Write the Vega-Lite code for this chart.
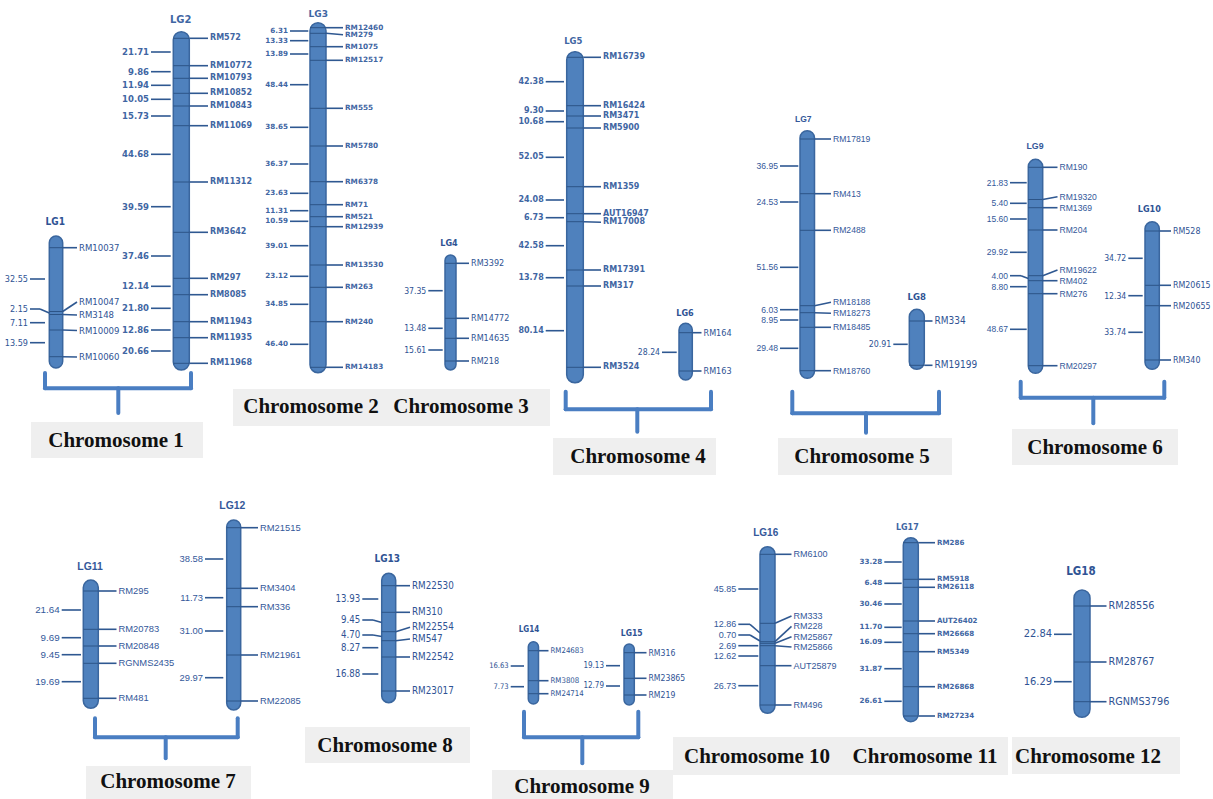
{
"$schema":"https://vega.github.io/schema/vega-lite/v6.json",
"width":1213,"height":799,"padding":0,
"autosize":{"type":"fit","contains":"padding"},
"background":"white",
"config":{"view":{"stroke":null}},
"resolve":{"scale":{"size":"independent"}},
"datasets":{
"lgs":[
{"lg":"LG1","x1":49.3,"x2":62.7,"top":236,"bot":368,"tx":55.3,"ty":222,"lx":77,"d1":30,"d2":45,"dm":40},
{"lg":"LG2","x1":173.3,"x2":189.3,"top":31.7,"bot":370,"tx":180.7,"ty":20,"lx":208,"d1":151,"d2":170.7},
{"lg":"LG3","x1":310,"x2":326,"top":22.7,"bot":372.7,"tx":318.3,"ty":14,"lx":343,"d1":290,"d2":308.3},
{"lg":"LG4","x1":445,"x2":456,"top":255,"bot":370,"tx":449,"ty":242.7,"lx":469,"d1":428.3,"d2":442.7},
{"lg":"LG5","x1":566.7,"x2":583.3,"top":51.7,"bot":382.7,"tx":573.3,"ty":40.7,"lx":601,"d1":545.7,"d2":564},
{"lg":"LG6","x1":679,"x2":692.3,"top":323.3,"bot":380,"tx":685,"ty":312.7,"lx":701.5,"d1":662,"d2":676.7},
{"lg":"LG7","x1":800,"x2":814.5,"top":130.7,"bot":378.3,"tx":803.3,"ty":119,"lx":831,"d1":780,"d2":798.3},
{"lg":"LG8","x1":909.3,"x2":924.3,"top":309.3,"bot":369.3,"tx":916.7,"ty":296.7,"lx":932.5,"d1":893.3,"d2":907.7},
{"lg":"LG9","x1":1028.3,"x2":1042.7,"top":159.3,"bot":373.3,"tx":1035,"ty":146,"lx":1057.5,"d1":1010,"d2":1026.7,"dm":1021},
{"lg":"LG10","x1":1145,"x2":1159.3,"top":221.7,"bot":369.3,"tx":1149.3,"ty":209,"lx":1171,"d1":1128.3,"d2":1142.7},
{"lg":"LG11","x1":83.3,"x2":98.3,"top":580,"bot":708.3,"tx":90,"ty":566.7,"lx":116.5,"d1":61.7,"d2":81},
{"lg":"LG12","x1":226.7,"x2":240.7,"top":520,"bot":710,"tx":232.3,"ty":506,"lx":258,"d1":205,"d2":223.3},
{"lg":"LG13","x1":381.7,"x2":395.7,"top":573.3,"bot":702.7,"tx":387.3,"ty":559,"lx":410,"d1":362.3,"d2":378.3,"dm":373},
{"lg":"LG14","x1":528.3,"x2":538.5,"top":641.7,"bot":704,"tx":529,"ty":630,"lx":548.5,"d1":510.7,"d2":524},
{"lg":"LG15","x1":624,"x2":634.3,"top":644,"bot":705,"tx":631.7,"ty":633.3,"lx":646.5,"d1":606,"d2":620},
{"lg":"LG16","x1":760,"x2":775,"top":546.7,"bot":713.3,"tx":765.7,"ty":533.3,"lx":791.5,"d1":738.3,"d2":758.3,"dm":750},
{"lg":"LG17","x1":903.3,"x2":918.3,"top":537.7,"bot":721.7,"tx":907.3,"ty":528.3,"lx":935,"d1":884.3,"d2":901.7},
{"lg":"LG18","x1":1074,"x2":1090,"top":590,"bot":717.3,"tx":1081,"ty":572.3,"lx":1106.5,"d1":1054,"d2":1071.7}
],
"markers":[
{"lg":"LG1","m":"RM10037","y":247.7,"ly":247.7},
{"lg":"LG1","m":"RM10047","y":311.5,"ly":302},
{"lg":"LG1","m":"RM3148","y":314.5,"ly":315},
{"lg":"LG1","m":"RM10009","y":330,"ly":330.5},
{"lg":"LG1","m":"RM10060","y":356.7,"ly":357},
{"lg":"LG2","m":"RM572","y":38.3,"ly":38.3},
{"lg":"LG2","m":"RM10772","y":65.7,"ly":65.7},
{"lg":"LG2","m":"RM10793","y":78.3,"ly":78.3},
{"lg":"LG2","m":"RM10852","y":93.3,"ly":93.3},
{"lg":"LG2","m":"RM10843","y":106,"ly":106},
{"lg":"LG2","m":"RM11069","y":125.7,"ly":125.7},
{"lg":"LG2","m":"RM11312","y":182,"ly":182},
{"lg":"LG2","m":"RM3642","y":232.3,"ly":232.3},
{"lg":"LG2","m":"RM297","y":278.3,"ly":278.3},
{"lg":"LG2","m":"RM8085","y":294.7,"ly":294.7},
{"lg":"LG2","m":"RM11943","y":321.7,"ly":321.7},
{"lg":"LG2","m":"RM11935","y":337.7,"ly":337.7},
{"lg":"LG2","m":"RM11968","y":363.3,"ly":363.3},
{"lg":"LG3","m":"RM12460","y":27.7,"ly":27.7},
{"lg":"LG3","m":"RM279","y":33.3,"ly":34.7},
{"lg":"LG3","m":"RM1075","y":46.7,"ly":46.7},
{"lg":"LG3","m":"RM12517","y":60.3,"ly":60.3},
{"lg":"LG3","m":"RM555","y":108.3,"ly":108.3},
{"lg":"LG3","m":"RM5780","y":146,"ly":146},
{"lg":"LG3","m":"RM6378","y":181.7,"ly":181.7},
{"lg":"LG3","m":"RM71","y":204.7,"ly":204.7},
{"lg":"LG3","m":"RM521","y":216.7,"ly":216.7},
{"lg":"LG3","m":"RM12939","y":226.7,"ly":226.7},
{"lg":"LG3","m":"RM13530","y":265,"ly":265},
{"lg":"LG3","m":"RM263","y":287.3,"ly":287.3},
{"lg":"LG3","m":"RM240","y":321.7,"ly":321.7},
{"lg":"LG3","m":"RM14183","y":367.3,"ly":367.3},
{"lg":"LG4","m":"RM3392","y":263.3,"ly":263.3},
{"lg":"LG4","m":"RM14772","y":318.3,"ly":318.3},
{"lg":"LG4","m":"RM14635","y":338.3,"ly":338.3},
{"lg":"LG4","m":"RM218","y":361,"ly":361},
{"lg":"LG5","m":"RM16739","y":57.3,"ly":57.3},
{"lg":"LG5","m":"RM16424","y":105.7,"ly":105.7},
{"lg":"LG5","m":"RM3471","y":116,"ly":116},
{"lg":"LG5","m":"RM5900","y":128,"ly":128},
{"lg":"LG5","m":"RM1359","y":186.7,"ly":186.7},
{"lg":"LG5","m":"AUT16947","y":213.7,"ly":213.7},
{"lg":"LG5","m":"RM17008","y":221.7,"ly":222.3},
{"lg":"LG5","m":"RM17391","y":270,"ly":270},
{"lg":"LG5","m":"RM317","y":286,"ly":286},
{"lg":"LG5","m":"RM3524","y":367.3,"ly":367.3},
{"lg":"LG6","m":"RM164","y":332.7,"ly":332.7},
{"lg":"LG6","m":"RM163","y":371,"ly":371},
{"lg":"LG7","m":"RM17819","y":139,"ly":139},
{"lg":"LG7","m":"RM413","y":193.7,"ly":193.7},
{"lg":"LG7","m":"RM2488","y":230.3,"ly":230.3},
{"lg":"LG7","m":"RM18188","y":305.7,"ly":302.3},
{"lg":"LG7","m":"RM18273","y":312.7,"ly":313.3},
{"lg":"LG7","m":"RM18485","y":327.3,"ly":327.3},
{"lg":"LG7","m":"RM18760","y":370.7,"ly":370.7},
{"lg":"LG8","m":"RM334","y":321,"ly":321},
{"lg":"LG8","m":"RM19199","y":365.3,"ly":365.3},
{"lg":"LG9","m":"RM190","y":167.3,"ly":167.3},
{"lg":"LG9","m":"RM19320","y":199.5,"ly":196.7},
{"lg":"LG9","m":"RM1369","y":207.7,"ly":207.7},
{"lg":"LG9","m":"RM204","y":230,"ly":230},
{"lg":"LG9","m":"RM19622","y":275.7,"ly":270},
{"lg":"LG9","m":"RM402","y":280.7,"ly":280.7},
{"lg":"LG9","m":"RM276","y":293.7,"ly":293.7},
{"lg":"LG9","m":"RM20297","y":365.7,"ly":365.7},
{"lg":"LG10","m":"RM528","y":231,"ly":231},
{"lg":"LG10","m":"RM20615","y":285.3,"ly":285.3},
{"lg":"LG10","m":"RM20655","y":305.7,"ly":305.7},
{"lg":"LG10","m":"RM340","y":360,"ly":360},
{"lg":"LG11","m":"RM295","y":591,"ly":591},
{"lg":"LG11","m":"RM20783","y":629.3,"ly":629.3},
{"lg":"LG11","m":"RM20848","y":646,"ly":646},
{"lg":"LG11","m":"RGNMS2435","y":663.3,"ly":663.3},
{"lg":"LG11","m":"RM481","y":698.3,"ly":698.3},
{"lg":"LG12","m":"RM21515","y":527.7,"ly":527.7},
{"lg":"LG12","m":"RM3404","y":588.3,"ly":588.3},
{"lg":"LG12","m":"RM336","y":606.7,"ly":606.7},
{"lg":"LG12","m":"RM21961","y":655,"ly":655},
{"lg":"LG12","m":"RM22085","y":701,"ly":701},
{"lg":"LG13","m":"RM22530","y":585.7,"ly":585.7},
{"lg":"LG13","m":"RM310","y":612.3,"ly":612.3},
{"lg":"LG13","m":"RM22554","y":631.7,"ly":627.3},
{"lg":"LG13","m":"RM547","y":640.7,"ly":639},
{"lg":"LG13","m":"RM22542","y":657,"ly":657},
{"lg":"LG13","m":"RM23017","y":691,"ly":691},
{"lg":"LG14","m":"RM24683","y":650.7,"ly":650.7},
{"lg":"LG14","m":"RM3808","y":680.7,"ly":680.7},
{"lg":"LG14","m":"RM24714","y":693.7,"ly":693.7},
{"lg":"LG15","m":"RM316","y":652.7,"ly":652.7},
{"lg":"LG15","m":"RM23865","y":678.3,"ly":678.3},
{"lg":"LG15","m":"RM219","y":695,"ly":695},
{"lg":"LG16","m":"RM6100","y":554.3,"ly":554.3},
{"lg":"LG16","m":"RM333","y":623.3,"ly":616},
{"lg":"LG16","m":"RM228","y":641.7,"ly":626.3},
{"lg":"LG16","m":"RM25867","y":643.3,"ly":636.7},
{"lg":"LG16","m":"RM25866","y":645.7,"ly":647},
{"lg":"LG16","m":"AUT25879","y":665.7,"ly":665.7},
{"lg":"LG16","m":"RM496","y":705,"ly":705},
{"lg":"LG17","m":"RM286","y":542.7,"ly":542.7},
{"lg":"LG17","m":"RM5918","y":579.3,"ly":579.3},
{"lg":"LG17","m":"RM26118","y":587.3,"ly":587.3},
{"lg":"LG17","m":"AUT26402","y":621,"ly":621},
{"lg":"LG17","m":"RM26668","y":633.7,"ly":633.7},
{"lg":"LG17","m":"RM5349","y":651.7,"ly":651.7},
{"lg":"LG17","m":"RM26868","y":686.7,"ly":686.7},
{"lg":"LG17","m":"RM27234","y":716,"ly":716},
{"lg":"LG18","m":"RM28556","y":606,"ly":606},
{"lg":"LG18","m":"RM28767","y":662,"ly":662},
{"lg":"LG18","m":"RGNMS3796","y":701.7,"ly":701.7}
],
"dists":[
{"lg":"LG1","d":"32.55","y":279},
{"lg":"LG1","d":"2.15","y":309,"by":313},
{"lg":"LG1","d":"7.11","y":322.7},
{"lg":"LG1","d":"13.59","y":342.7},
{"lg":"LG2","d":"21.71","y":52},
{"lg":"LG2","d":"9.86","y":71.7},
{"lg":"LG2","d":"11.94","y":85.3},
{"lg":"LG2","d":"10.05","y":99.3},
{"lg":"LG2","d":"15.73","y":116},
{"lg":"LG2","d":"44.68","y":154.3},
{"lg":"LG2","d":"39.59","y":206.7},
{"lg":"LG2","d":"37.46","y":256},
{"lg":"LG2","d":"12.14","y":286.3},
{"lg":"LG2","d":"21.80","y":308.3},
{"lg":"LG2","d":"12.86","y":330},
{"lg":"LG2","d":"20.66","y":351},
{"lg":"LG3","d":"6.31","y":31},
{"lg":"LG3","d":"13.33","y":40.7},
{"lg":"LG3","d":"13.89","y":54},
{"lg":"LG3","d":"48.44","y":84.7},
{"lg":"LG3","d":"38.65","y":127.3},
{"lg":"LG3","d":"36.37","y":164},
{"lg":"LG3","d":"23.63","y":193.3},
{"lg":"LG3","d":"11.31","y":210.7},
{"lg":"LG3","d":"10.59","y":221.3},
{"lg":"LG3","d":"39.01","y":245.7},
{"lg":"LG3","d":"23.12","y":276.3},
{"lg":"LG3","d":"34.85","y":304.3},
{"lg":"LG3","d":"46.40","y":344.3},
{"lg":"LG4","d":"37.35","y":290.7},
{"lg":"LG4","d":"13.48","y":328.3},
{"lg":"LG4","d":"15.61","y":350},
{"lg":"LG5","d":"42.38","y":81.7},
{"lg":"LG5","d":"9.30","y":111},
{"lg":"LG5","d":"10.68","y":121.7},
{"lg":"LG5","d":"52.05","y":157.3},
{"lg":"LG5","d":"24.08","y":200},
{"lg":"LG5","d":"6.73","y":217.7},
{"lg":"LG5","d":"42.58","y":245.7},
{"lg":"LG5","d":"13.78","y":277.7},
{"lg":"LG5","d":"80.14","y":330.7},
{"lg":"LG6","d":"28.24","y":352.3},
{"lg":"LG7","d":"36.95","y":166},
{"lg":"LG7","d":"24.53","y":202},
{"lg":"LG7","d":"51.56","y":267.3},
{"lg":"LG7","d":"6.03","y":309.7},
{"lg":"LG7","d":"8.95","y":320},
{"lg":"LG7","d":"29.48","y":348.3},
{"lg":"LG8","d":"20.91","y":344.3},
{"lg":"LG9","d":"21.83","y":182.7},
{"lg":"LG9","d":"5.40","y":203.3},
{"lg":"LG9","d":"15.60","y":219},
{"lg":"LG9","d":"29.92","y":252.3},
{"lg":"LG9","d":"4.00","y":275.7,"by":278.5},
{"lg":"LG9","d":"8.80","y":286.7},
{"lg":"LG9","d":"48.67","y":329.3},
{"lg":"LG10","d":"34.72","y":258.3},
{"lg":"LG10","d":"12.34","y":295.7},
{"lg":"LG10","d":"33.74","y":332.3},
{"lg":"LG11","d":"21.64","y":610},
{"lg":"LG11","d":"9.69","y":637.7},
{"lg":"LG11","d":"9.45","y":654.7},
{"lg":"LG11","d":"19.69","y":681.7},
{"lg":"LG12","d":"38.58","y":559},
{"lg":"LG12","d":"11.73","y":597.7},
{"lg":"LG12","d":"31.00","y":631},
{"lg":"LG12","d":"29.97","y":677.7},
{"lg":"LG13","d":"13.93","y":599},
{"lg":"LG13","d":"9.45","y":620,"by":622.5},
{"lg":"LG13","d":"4.70","y":635,"by":636.5},
{"lg":"LG13","d":"8.27","y":647.7},
{"lg":"LG13","d":"16.88","y":674},
{"lg":"LG14","d":"16.63","y":666},
{"lg":"LG14","d":"7.73","y":686.7},
{"lg":"LG15","d":"19.13","y":665.7},
{"lg":"LG15","d":"12.79","y":686},
{"lg":"LG16","d":"45.85","y":589},
{"lg":"LG16","d":"12.86","y":624.3,"by":633},
{"lg":"LG16","d":"0.70","y":635,"by":641},
{"lg":"LG16","d":"2.69","y":645.7},
{"lg":"LG16","d":"12.62","y":656},
{"lg":"LG16","d":"26.73","y":685.7},
{"lg":"LG17","d":"33.28","y":562},
{"lg":"LG17","d":"6.48","y":583.3},
{"lg":"LG17","d":"30.46","y":604},
{"lg":"LG17","d":"11.70","y":627.3},
{"lg":"LG17","d":"16.09","y":642.3},
{"lg":"LG17","d":"31.87","y":668.7},
{"lg":"LG17","d":"26.61","y":701.3},
{"lg":"LG18","d":"22.84","y":634.3},
{"lg":"LG18","d":"16.29","y":681.7}
],
"brackets":[
{"c":"Chromosome 1","xl":45,"xr":191,"xm":118.3,"top":373,"yh":388.3,"tip":413},
{"c":"Chromosome 4","xl":565.7,"xr":711,"xm":637.3,"top":391.7,"yh":409.3,"tip":431.7},
{"c":"Chromosome 5","xl":792.3,"xr":939,"xm":866,"top":391.7,"yh":413.3,"tip":432.7},
{"c":"Chromosome 6","xl":1020.7,"xr":1164.3,"xm":1093.3,"top":381.7,"yh":397.7,"tip":423.3},
{"c":"Chromosome 7","xl":95,"xr":237.7,"xm":165.7,"top":718.3,"yh":737.3,"tip":758.3},
{"c":"Chromosome 9","xl":524,"xr":638.3,"xm":582.3,"top":711.7,"yh":737.3,"tip":763.3}
],
"chroms":[
{"c":"Chromosome 1","bx1":31,"bx2":203,"by1":422,"by2":458,"tx":116,"ty":441},
{"c":"Chromosome 2","bx1":233,"bx2":395,"by1":389,"by2":426,"tx":311,"ty":407},
{"c":"Chromosome 3","bx1":390,"bx2":550,"by1":389,"by2":426,"tx":461,"ty":407},
{"c":"Chromosome 4","bx1":553,"bx2":716,"by1":438,"by2":475,"tx":638,"ty":457},
{"c":"Chromosome 5","bx1":778,"bx2":952,"by1":438,"by2":475,"tx":862,"ty":457},
{"c":"Chromosome 6","bx1":1012,"bx2":1178,"by1":429,"by2":465,"tx":1095,"ty":448},
{"c":"Chromosome 7","bx1":86,"bx2":251,"by1":766,"by2":799,"tx":168,"ty":782},
{"c":"Chromosome 8","bx1":305,"bx2":470,"by1":727,"by2":763,"tx":385,"ty":746},
{"c":"Chromosome 9","bx1":492,"bx2":673,"by1":770,"by2":799,"tx":582,"ty":787},
{"c":"Chromosome 10","bx1":673,"bx2":842,"by1":737,"by2":775,"tx":757,"ty":757},
{"c":"Chromosome 11","bx1":842,"bx2":1008,"by1":737,"by2":775,"tx":925,"ty":757},
{"c":"Chromosome 12","bx1":1012,"bx2":1180,"by1":737,"by2":774,"tx":1088,"ty":757}
]
},
"layer":[
{"data":{"name":"chroms"},"mark":{"type":"rect","fill":"#efefef"},
 "encoding":{"x":{"field":"bx1","type":"quantitative","scale":{"domain":[0,1213],"nice":false,"zero":false},"axis":null},"x2":{"field":"bx2"},
 "y":{"field":"by1","type":"quantitative","scale":{"domain":[0,799],"nice":false,"zero":false,"reverse":true},"axis":null},"y2":{"field":"by2"}}},
{"data":{"name":"chroms"},"mark":{"type":"text","font":"Liberation Serif","fontWeight":"bold","fontSize":21,"color":"#111111","align":"center","baseline":"middle"},
 "encoding":{"x":{"field":"tx","type":"quantitative","scale":{"domain":[0,1213],"nice":false,"zero":false},"axis":null},
 "y":{"field":"ty","type":"quantitative","scale":{"domain":[0,799],"nice":false,"zero":false,"reverse":true},"axis":null},"text":{"field":"c"}}},
{"data":{"name":"brackets"},"mark":{"type":"rule","color":"#4a7ec2","strokeWidth":4,"strokeCap":"round"},
 "encoding":{"x":{"field":"xl","type":"quantitative","scale":{"domain":[0,1213],"nice":false,"zero":false},"axis":null},
 "y":{"field":"top","type":"quantitative","scale":{"domain":[0,799],"nice":false,"zero":false,"reverse":true},"axis":null},"y2":{"field":"yh"}}},
{"data":{"name":"brackets"},"mark":{"type":"rule","color":"#4a7ec2","strokeWidth":4,"strokeCap":"round"},
 "encoding":{"x":{"field":"xr","type":"quantitative","scale":{"domain":[0,1213],"nice":false,"zero":false},"axis":null},
 "y":{"field":"top","type":"quantitative","scale":{"domain":[0,799],"nice":false,"zero":false,"reverse":true},"axis":null},"y2":{"field":"yh"}}},
{"data":{"name":"brackets"},"mark":{"type":"rule","color":"#4a7ec2","strokeWidth":4,"strokeCap":"round"},
 "encoding":{"x":{"field":"xl","type":"quantitative","scale":{"domain":[0,1213],"nice":false,"zero":false},"axis":null},"x2":{"field":"xr"},
 "y":{"field":"yh","type":"quantitative","scale":{"domain":[0,799],"nice":false,"zero":false,"reverse":true},"axis":null}}},
{"data":{"name":"brackets"},"mark":{"type":"rule","color":"#4a7ec2","strokeWidth":4,"strokeCap":"round"},
 "encoding":{"x":{"field":"xm","type":"quantitative","scale":{"domain":[0,1213],"nice":false,"zero":false},"axis":null},
 "y":{"field":"yh","type":"quantitative","scale":{"domain":[0,799],"nice":false,"zero":false,"reverse":true},"axis":null},"y2":{"field":"tip"}}},
{"data":{"name":"lgs"},"mark":{"type":"rect","fill":"#4f81bd","stroke":"#3a669e","strokeWidth":1.5,"cornerRadius":8},
 "encoding":{"x":{"field":"x1","type":"quantitative","scale":{"domain":[0,1213],"nice":false,"zero":false},"axis":null},"x2":{"field":"x2"},
 "y":{"field":"top","type":"quantitative","scale":{"domain":[0,799],"nice":false,"zero":false,"reverse":true},"axis":null},"y2":{"field":"bot"}}},
{"data":{"name":"markers"},
 "transform":[{"lookup":"lg","from":{"data":{"name":"lgs"},"key":"lg","fields":["x1","x2","lx"]}}],
 "mark":{"type":"rule","color":"#2c5487","strokeWidth":1},
 "encoding":{"x":{"field":"x1","type":"quantitative","scale":{"domain":[0,1213],"nice":false,"zero":false},"axis":null},"x2":{"field":"x2"},
 "y":{"field":"y","type":"quantitative","scale":{"domain":[0,799],"nice":false,"zero":false,"reverse":true},"axis":null}}},
{"data":{"name":"markers"},
 "transform":[{"lookup":"lg","from":{"data":{"name":"lgs"},"key":"lg","fields":["x1","x2","lx"]}}],
 "mark":{"type":"rule","color":"#2f5891","strokeWidth":1.6},
 "encoding":{"x":{"field":"x2","type":"quantitative","scale":{"domain":[0,1213],"nice":false,"zero":false},"axis":null},"x2":{"field":"lx"},
 "y":{"field":"y","type":"quantitative","scale":{"domain":[0,799],"nice":false,"zero":false,"reverse":true},"axis":null},"y2":{"field":"ly"}}},
{"data":{"name":"dists"},
 "transform":[{"filter":"!isValid(datum.by)"},{"lookup":"lg","from":{"data":{"name":"lgs"},"key":"lg","fields":["x1","d1","d2","dm"]}}],
 "mark":{"type":"rule","color":"#2f5891","strokeWidth":1.6},
 "encoding":{"x":{"field":"d1","type":"quantitative","scale":{"domain":[0,1213],"nice":false,"zero":false},"axis":null},"x2":{"field":"d2"},
 "y":{"field":"y","type":"quantitative","scale":{"domain":[0,799],"nice":false,"zero":false,"reverse":true},"axis":null}}},
{"data":{"name":"dists"},
 "transform":[{"filter":"isValid(datum.by)"},{"lookup":"lg","from":{"data":{"name":"lgs"},"key":"lg","fields":["x1","d1","d2","dm"]}}],
 "mark":{"type":"rule","color":"#2f5891","strokeWidth":1.6},
 "encoding":{"x":{"field":"d1","type":"quantitative","scale":{"domain":[0,1213],"nice":false,"zero":false},"axis":null},"x2":{"field":"dm"},
 "y":{"field":"y","type":"quantitative","scale":{"domain":[0,799],"nice":false,"zero":false,"reverse":true},"axis":null}}},
{"data":{"name":"dists"},
 "transform":[{"filter":"isValid(datum.by)"},{"lookup":"lg","from":{"data":{"name":"lgs"},"key":"lg","fields":["x1","d1","d2","dm"]}}],
 "mark":{"type":"rule","color":"#2f5891","strokeWidth":1.6},
 "encoding":{"x":{"field":"dm","type":"quantitative","scale":{"domain":[0,1213],"nice":false,"zero":false},"axis":null},"x2":{"field":"x1"},
 "y":{"field":"y","type":"quantitative","scale":{"domain":[0,799],"nice":false,"zero":false,"reverse":true},"axis":null},"y2":{"field":"by"}}},
{"data":{"name":"markers"},
 "transform":[{"filter":{"field":"lg","oneOf":["LG2","LG3","LG5","LG17"]}},{"lookup":"lg","from":{"data":{"name":"lgs"},"key":"lg","fields":["lx"]}}],
 "mark":{"type":"text","font":"DejaVu Sans","fontWeight":"bold","color":"#3f66a3","align":"left","baseline":"middle","dx":2},
 "encoding":{"x":{"field":"lx","type":"quantitative","scale":{"domain":[0,1213],"nice":false,"zero":false},"axis":null},
 "y":{"field":"ly","type":"quantitative","scale":{"domain":[0,799],"nice":false,"zero":false,"reverse":true},"axis":null},
 "text":{"field":"m"},
 "size":{"field":"lg","type":"ordinal","legend":null,"scale":{"type":"ordinal","domain":["LG2","LG3","LG5","LG17"],"range":[8,7.3,8,7.1]}}}},
{"data":{"name":"markers"},
 "transform":[{"filter":{"field":"lg","oneOf":["LG7","LG9","LG11","LG12","LG16"]}},{"lookup":"lg","from":{"data":{"name":"lgs"},"key":"lg","fields":["lx"]}}],
 "mark":{"type":"text","font":"Liberation Sans","color":"#34589a","align":"left","baseline":"middle","dx":2},
 "encoding":{"x":{"field":"lx","type":"quantitative","scale":{"domain":[0,1213],"nice":false,"zero":false},"axis":null},
 "y":{"field":"ly","type":"quantitative","scale":{"domain":[0,799],"nice":false,"zero":false,"reverse":true},"axis":null},
 "text":{"field":"m"},
 "size":{"field":"lg","type":"ordinal","legend":null,"scale":{"type":"ordinal","domain":["LG7","LG9","LG11","LG12","LG16"],"range":[8.6,8.6,9.4,9.4,9]}}}},
{"data":{"name":"markers"},
 "transform":[{"filter":{"field":"lg","oneOf":["LG1","LG4","LG6","LG8","LG10","LG13","LG14","LG15","LG18"]}},{"lookup":"lg","from":{"data":{"name":"lgs"},"key":"lg","fields":["lx"]}}],
 "mark":{"type":"text","font":"DejaVu Sans Condensed","color":"#2f5394","align":"left","baseline":"middle","dx":2},
 "encoding":{"x":{"field":"lx","type":"quantitative","scale":{"domain":[0,1213],"nice":false,"zero":false},"axis":null},
 "y":{"field":"ly","type":"quantitative","scale":{"domain":[0,799],"nice":false,"zero":false,"reverse":true},"axis":null},
 "text":{"field":"m"},
 "size":{"field":"lg","type":"ordinal","legend":null,"scale":{"type":"ordinal","domain":["LG1","LG4","LG6","LG8","LG10","LG13","LG14","LG15","LG18"],"range":[9.5,9,9,10,8.8,9.8,7.8,8.6,10.8]}}}},
{"data":{"name":"dists"},
 "transform":[{"filter":{"field":"lg","oneOf":["LG2","LG3","LG5","LG17"]}},{"lookup":"lg","from":{"data":{"name":"lgs"},"key":"lg","fields":["d1"]}}],
 "mark":{"type":"text","font":"DejaVu Sans","fontWeight":"bold","color":"#3f66a3","align":"right","baseline":"middle","dx":-2},
 "encoding":{"x":{"field":"d1","type":"quantitative","scale":{"domain":[0,1213],"nice":false,"zero":false},"axis":null},
 "y":{"field":"y","type":"quantitative","scale":{"domain":[0,799],"nice":false,"zero":false,"reverse":true},"axis":null},
 "text":{"field":"d"},
 "size":{"field":"lg","type":"ordinal","legend":null,"scale":{"type":"ordinal","domain":["LG2","LG3","LG5","LG17"],"range":[8.5,7.2,8,7.2]}}}},
{"data":{"name":"dists"},
 "transform":[{"filter":{"field":"lg","oneOf":["LG7","LG9","LG11","LG12","LG16"]}},{"lookup":"lg","from":{"data":{"name":"lgs"},"key":"lg","fields":["d1"]}}],
 "mark":{"type":"text","font":"Liberation Sans","color":"#34589a","align":"right","baseline":"middle","dx":-2},
 "encoding":{"x":{"field":"d1","type":"quantitative","scale":{"domain":[0,1213],"nice":false,"zero":false},"axis":null},
 "y":{"field":"y","type":"quantitative","scale":{"domain":[0,799],"nice":false,"zero":false,"reverse":true},"axis":null},
 "text":{"field":"d"},
 "size":{"field":"lg","type":"ordinal","legend":null,"scale":{"type":"ordinal","domain":["LG7","LG9","LG11","LG12","LG16"],"range":[8.6,8.5,9.8,9.4,9]}}}},
{"data":{"name":"dists"},
 "transform":[{"filter":{"field":"lg","oneOf":["LG1","LG4","LG6","LG8","LG10","LG13","LG14","LG15","LG18"]}},{"lookup":"lg","from":{"data":{"name":"lgs"},"key":"lg","fields":["d1"]}}],
 "mark":{"type":"text","font":"DejaVu Sans Condensed","color":"#2f5394","align":"right","baseline":"middle","dx":-2},
 "encoding":{"x":{"field":"d1","type":"quantitative","scale":{"domain":[0,1213],"nice":false,"zero":false},"axis":null},
 "y":{"field":"y","type":"quantitative","scale":{"domain":[0,799],"nice":false,"zero":false,"reverse":true},"axis":null},
 "text":{"field":"d"},
 "size":{"field":"lg","type":"ordinal","legend":null,"scale":{"type":"ordinal","domain":["LG1","LG4","LG6","LG8","LG10","LG13","LG14","LG15","LG18"],"range":[9,8.6,8.6,8.8,8.6,9.6,7.6,8,11]}}}},
{"data":{"name":"lgs"},
 "transform":[{"filter":{"field":"lg","oneOf":["LG2","LG3","LG5","LG17"]}}],
 "mark":{"type":"text","font":"DejaVu Sans","fontWeight":"bold","color":"#3f66a3","align":"center","baseline":"middle"},
 "encoding":{"x":{"field":"tx","type":"quantitative","scale":{"domain":[0,1213],"nice":false,"zero":false},"axis":null},
 "y":{"field":"ty","type":"quantitative","scale":{"domain":[0,799],"nice":false,"zero":false,"reverse":true},"axis":null},
 "text":{"field":"lg"},
 "size":{"field":"lg","type":"ordinal","legend":null,"scale":{"type":"ordinal","domain":["LG2","LG3","LG5","LG17"],"range":[10,9,8.5,8]}}}},
{"data":{"name":"lgs"},
 "transform":[{"filter":{"field":"lg","oneOf":["LG7","LG9","LG11","LG12","LG16"]}}],
 "mark":{"type":"text","font":"Liberation Sans","fontWeight":"bold","color":"#34589a","align":"center","baseline":"middle"},
 "encoding":{"x":{"field":"tx","type":"quantitative","scale":{"domain":[0,1213],"nice":false,"zero":false},"axis":null},
 "y":{"field":"ty","type":"quantitative","scale":{"domain":[0,799],"nice":false,"zero":false,"reverse":true},"axis":null},
 "text":{"field":"lg"},
 "size":{"field":"lg","type":"ordinal","legend":null,"scale":{"type":"ordinal","domain":["LG7","LG9","LG11","LG12","LG16"],"range":[8.5,8.8,10.4,10.4,10]}}}},
{"data":{"name":"lgs"},
 "transform":[{"filter":{"field":"lg","oneOf":["LG1","LG4","LG6","LG8","LG10","LG13","LG14","LG15","LG18"]}}],
 "mark":{"type":"text","font":"DejaVu Sans Condensed","fontWeight":"bold","color":"#2f5394","align":"center","baseline":"middle"},
 "encoding":{"x":{"field":"tx","type":"quantitative","scale":{"domain":[0,1213],"nice":false,"zero":false},"axis":null},
 "y":{"field":"ty","type":"quantitative","scale":{"domain":[0,799],"nice":false,"zero":false,"reverse":true},"axis":null},
 "text":{"field":"lg"},
 "size":{"field":"lg","type":"ordinal","legend":null,"scale":{"type":"ordinal","domain":["LG1","LG4","LG6","LG8","LG10","LG13","LG14","LG15","LG18"],"range":[10,9,9,9.5,9,10,8,8.5,11.5]}}}}
]
}
